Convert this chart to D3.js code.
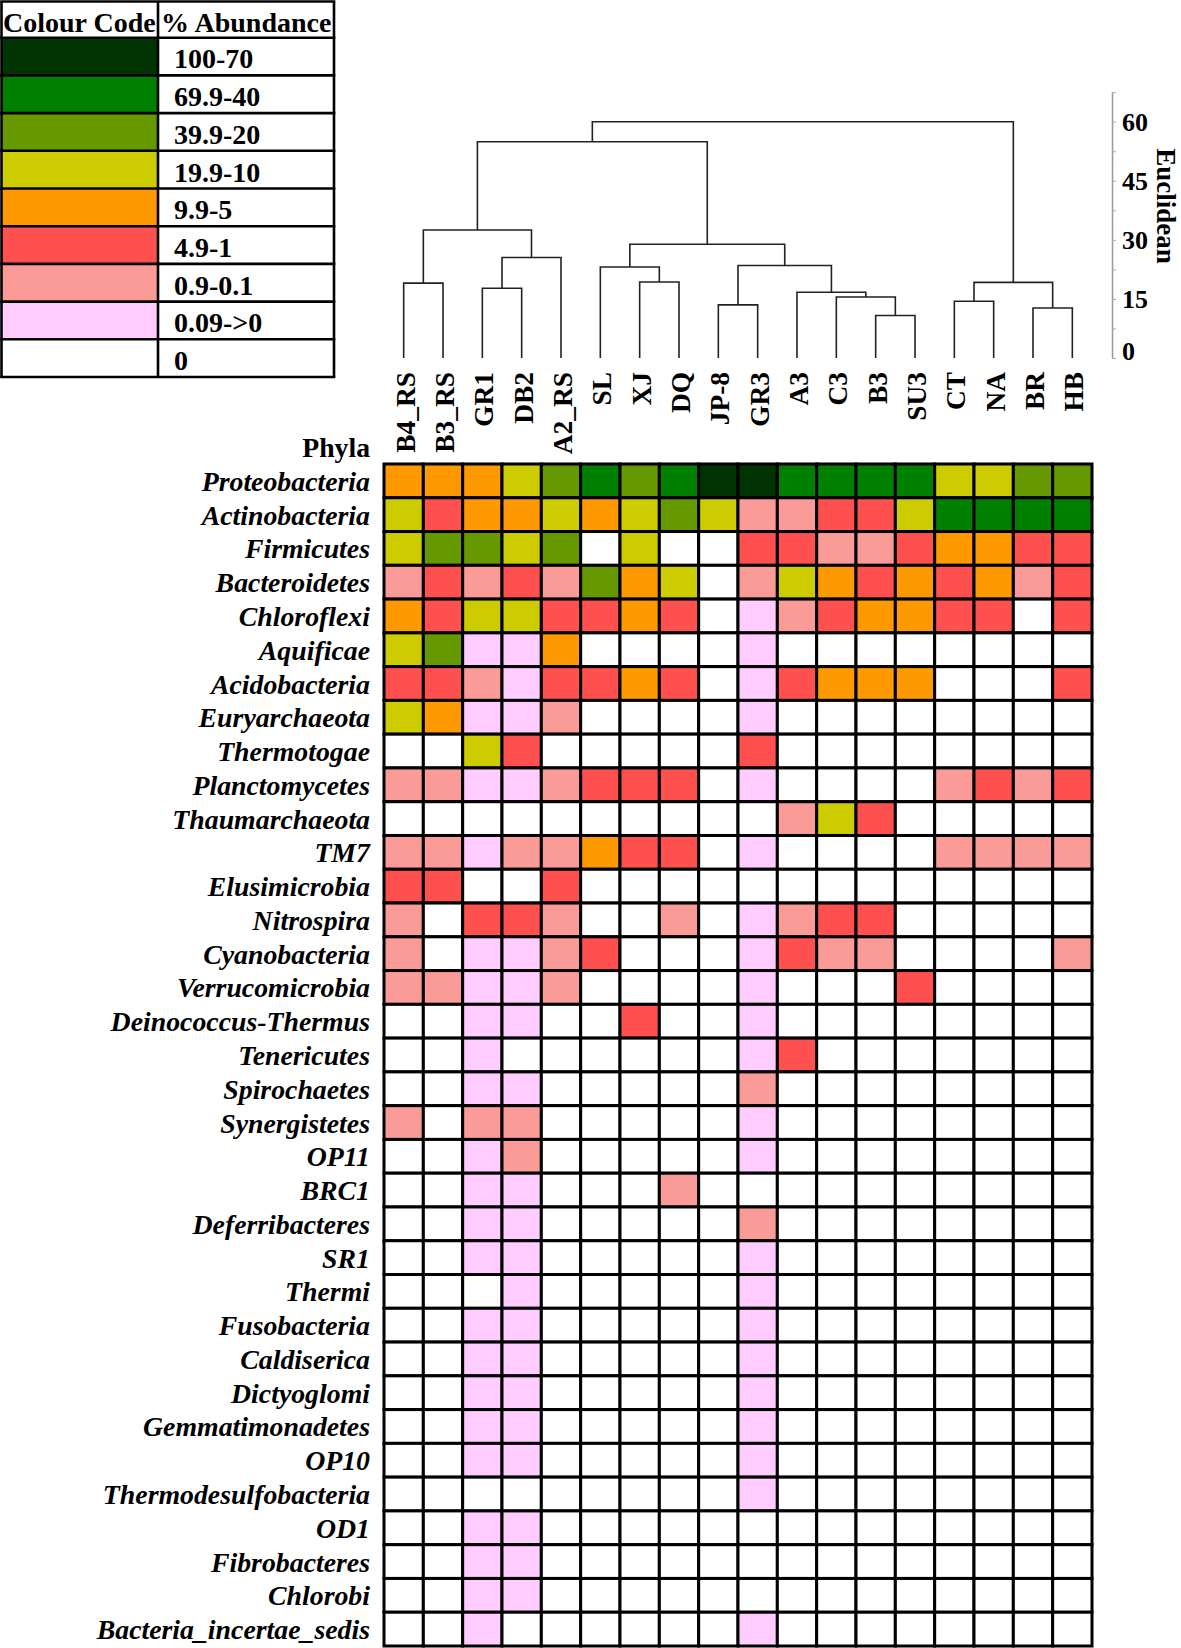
<!DOCTYPE html>
<html><head><meta charset="utf-8">
<script src="https://cdn.jsdelivr.net/npm/d3@7"></script>
<style>
body{margin:0;background:#fff}
svg{display:block}
text{font-family:"Liberation Serif","Times New Roman",serif;font-weight:bold;fill:#000}
</style>
</head><body>
<svg id="chart" width="1181" height="1648"></svg>
<script>
// ---------- DATA ----------
const samples = ["B4_RS","B3_RS","GR1","DB2","A2_RS","SL","XJ","DQ","JP-8","GR3","A3","C3","B3","SU3","CT","NA","BR","HB"];
const phyla = ["Proteobacteria","Actinobacteria","Firmicutes","Bacteroidetes","Chloroflexi","Aquificae","Acidobacteria","Euryarchaeota","Thermotogae","Planctomycetes","Thaumarchaeota","TM7","Elusimicrobia","Nitrospira","Cyanobacteria","Verrucomicrobia","Deinococcus-Thermus","Tenericutes","Spirochaetes","Synergistetes","OP11","BRC1","Deferribacteres","SR1","Thermi","Fusobacteria","Caldiserica","Dictyoglomi","Gemmatimonadetes","OP10","Thermodesulfobacteria","OD1","Fibrobacteres","Chlorobi","Bacteria_incertae_sedis"];
// abundance class index: 0 = "0", 1 = "0.09->0", 2 = "0.9-0.1", 3 = "4.9-1", 4 = "9.9-5", 5 = "19.9-10", 6 = "39.9-20", 7 = "69.9-40", 8 = "100-70"
const abundanceClasses = ["0","0.09->0","0.9-0.1","4.9-1","9.9-5","19.9-10","39.9-20","69.9-40","100-70"];
const classColours = ["#ffffff","#ffccff","#fb9b98","#ff5050","#ff9900","#cccc00","#669900","#008000","#023302"];
const abundanceClass = [
  [4,4,4,5,6,7,6,7,8,8,7,7,7,7,5,5,6,6],
  [5,3,4,4,5,4,5,6,5,2,2,3,3,5,7,7,7,7],
  [5,6,6,5,6,0,5,0,0,3,3,2,2,3,4,4,3,3],
  [2,3,2,3,2,6,4,5,0,2,5,4,3,4,3,4,2,3],
  [4,3,5,5,3,3,4,3,0,1,2,3,4,4,3,3,0,3],
  [5,6,1,1,4,0,0,0,0,1,0,0,0,0,0,0,0,0],
  [3,3,2,1,3,3,4,3,0,1,3,4,4,4,0,0,0,3],
  [5,4,1,1,2,0,0,0,0,1,0,0,0,0,0,0,0,0],
  [0,0,5,3,0,0,0,0,0,3,0,0,0,0,0,0,0,0],
  [2,2,1,1,2,3,3,3,0,1,0,0,0,0,2,3,2,3],
  [0,0,0,0,0,0,0,0,0,0,2,5,3,0,0,0,0,0],
  [2,2,1,2,2,4,3,3,0,1,0,0,0,0,2,2,2,2],
  [3,3,0,0,3,0,0,0,0,0,0,0,0,0,0,0,0,0],
  [2,0,3,3,2,0,0,2,0,1,2,3,3,0,0,0,0,0],
  [2,0,1,1,2,3,0,0,0,1,3,2,2,0,0,0,0,2],
  [2,2,1,1,2,0,0,0,0,1,0,0,0,3,0,0,0,0],
  [0,0,1,1,0,0,3,0,0,1,0,0,0,0,0,0,0,0],
  [0,0,1,0,0,0,0,0,0,1,3,0,0,0,0,0,0,0],
  [0,0,1,1,0,0,0,0,0,2,0,0,0,0,0,0,0,0],
  [2,0,2,2,0,0,0,0,0,1,0,0,0,0,0,0,0,0],
  [0,0,1,2,0,0,0,0,0,1,0,0,0,0,0,0,0,0],
  [0,0,1,1,0,0,0,2,0,0,0,0,0,0,0,0,0,0],
  [0,0,1,1,0,0,0,0,0,2,0,0,0,0,0,0,0,0],
  [0,0,1,1,0,0,0,0,0,1,0,0,0,0,0,0,0,0],
  [0,0,0,1,0,0,0,0,0,1,0,0,0,0,0,0,0,0],
  [0,0,1,1,0,0,0,0,0,1,0,0,0,0,0,0,0,0],
  [0,0,1,1,0,0,0,0,0,1,0,0,0,0,0,0,0,0],
  [0,0,1,1,0,0,0,0,0,1,0,0,0,0,0,0,0,0],
  [0,0,1,1,0,0,0,0,0,1,0,0,0,0,0,0,0,0],
  [0,0,1,1,0,0,0,0,0,1,0,0,0,0,0,0,0,0],
  [0,0,0,0,0,0,0,0,0,1,0,0,0,0,0,0,0,0],
  [0,0,1,1,0,0,0,0,0,0,0,0,0,0,0,0,0,0],
  [0,0,1,1,0,0,0,0,0,0,0,0,0,0,0,0,0,0],
  [0,0,1,1,0,0,0,0,0,0,0,0,0,0,0,0,0,0],
  [0,0,1,0,0,0,0,0,0,1,0,0,0,0,0,0,0,0]
];
// Dendrogram (Euclidean distance at each merge)
const dendrogram = {h:60.0, c:[
  {h:54.9, c:[
    {h:32.5, c:[
      {h:19.0, c:["B4_RS","B3_RS"]},
      {h:25.5, c:[{h:17.7, c:["GR1","DB2"]}, "A2_RS"]}
    ]},
    {h:28.9, c:[
      {h:23.1, c:["SL", {h:19.3, c:["XJ","DQ"]}]},
      {h:23.5, c:[
        {h:13.5, c:["JP-8","GR3"]},
        {h:16.7, c:["A3", {h:15.5, c:["C3", {h:10.8, c:["B3","SU3"]}]}]}
      ]}
    ]}
  ]},
  {h:19.2, c:[{h:14.4, c:["CT","NA"]}, {h:12.7, c:["BR","HB"]}]}
]};
const euclideanTicks = [0,7.5,15,22.5,30,37.5,45,52.5,60,67.5];
const euclideanLabels = [0,15,30,45,60];

// ---------- DRAW ----------
const svg = d3.select("#chart");
const colour = d3.scaleOrdinal().domain(d3.range(abundanceClasses.length)).range(classColours);

// Heatmap
const x = d3.scaleBand().domain(samples).range([384, 1092]);
const y = d3.scaleBand().domain(phyla).range([464, 1646]);

const cells = [];
phyla.forEach((p, i) => samples.forEach((s, j) => cells.push({p, s, v: abundanceClass[i][j]})));
svg.append("g").selectAll("rect").data(cells).join("rect")
  .attr("x", d => x(d.s)).attr("y", d => y(d.p))
  .attr("width", x.bandwidth()).attr("height", y.bandwidth())
  .attr("fill", d => colour(d.v))
  .attr("stroke", "#000").attr("stroke-width", 3);

// Row labels
svg.append("g").selectAll("text").data(phyla).join("text")
  .attr("x", 370).attr("y", d => y(d) + y.bandwidth()/2)
  .attr("dy", "0.36em").attr("text-anchor", "end")
  .style("font-style", "italic").style("font-size", "27.8px")
  .text(d => d);

svg.append("text").attr("x", 370).attr("y", 457).attr("text-anchor", "end")
  .style("font-size", "27.7px").text("Phyla");

// Column labels
svg.append("g").selectAll("text").data(samples).join("text")
  .attr("transform", d => `translate(${x(d) + x.bandwidth()/2 + 1},372) rotate(-90)`)
  .attr("dy", "0.36em").attr("text-anchor", "end")
  .style("font-size", "27.4px")
  .text(d => d);

// Dendrogram
const yD = d3.scaleLinear().domain([0, 67.5]).range([358, 358 - 67.5 * (358 - 121.7) / 60]);
const root = d3.hierarchy(dendrogram, d => d.c ? d.c.map(k => typeof k === "string" ? {name: k, h: 0} : k) : null);
root.eachAfter(n => {
  if (!n.children) n.px = x(n.data.name) + x.bandwidth()/2;
  else n.px = d3.mean(n.children, c => c.px);
});
const links = root.descendants().filter(n => n.children);
svg.append("g").selectAll("path").data(links).join("path")
  .attr("d", n => {
    const [a, b] = n.children;
    return `M${a.px},${yD(a.data.h)}V${yD(n.data.h)}H${b.px}V${yD(b.data.h)}`;
  })
  .attr("fill", "none").attr("stroke", "#222").attr("stroke-width", 1.6);

// Euclidean axis
const axisG = svg.append("g").attr("transform", "translate(1112,0)")
  .call(d3.axisRight(yD).tickValues(euclideanTicks).tickSize(4).tickSizeOuter(0).tickFormat(""));
axisG.select(".domain").attr("stroke", "#999").attr("stroke-width", 1.5);
axisG.selectAll(".tick line").attr("stroke", "#aaa");
svg.append("g").selectAll("text").data(euclideanLabels).join("text")
  .attr("x", 1122).attr("y", d => yD(d) - (d === 0 ? 7 : 0))
  .attr("dy", "0.35em").style("font-size", "26px")
  .text(d => d);
svg.append("text").attr("transform", "translate(1157,206) rotate(90)")
  .attr("text-anchor", "middle").style("font-size", "27px").text("Euclidean");

// Legend table
const legend = svg.append("g");
const lgTop = 1.5, lgHead = 36.2, lgRow = 37.7, lgLeft = 1.5, lgMid = 158, lgRight = 334;
const legendRows = d3.range(abundanceClasses.length).reverse();
const ly = d3.scaleBand().domain(legendRows).range([lgTop + lgHead, lgTop + lgHead + lgRow * legendRows.length]);
legend.selectAll("rect.sw").data(legendRows).join("rect").attr("class", "sw")
  .attr("x", lgLeft).attr("y", d => ly(d)).attr("width", lgMid - lgLeft).attr("height", ly.bandwidth())
  .attr("fill", d => colour(d));
legend.selectAll("text.lv").data(legendRows).join("text").attr("class", "lv")
  .attr("x", 174).attr("y", d => ly(d) + ly.bandwidth() - 7)
  .style("font-size", "28px").text(d => abundanceClasses[d]);
legend.append("text").attr("x", 3).attr("y", 31.5).style("font-size", "28px").text("Colour Code");
legend.append("text").attr("x", 161).attr("y", 31.5).style("font-size", "28px").text("% Abundance");
const hLines = [lgTop].concat(legendRows.map(d => ly(d)), [ly.range()[1]]);
legend.selectAll("line.h").data(hLines).join("line").attr("class", "h")
  .attr("x1", lgLeft - 1.3).attr("x2", lgRight + 1.3).attr("y1", d => d).attr("y2", d => d)
  .attr("stroke", "#000").attr("stroke-width", 2.6);
legend.selectAll("line.v").data([lgLeft, lgMid, lgRight]).join("line").attr("class", "v")
  .attr("x1", d => d).attr("x2", d => d).attr("y1", lgTop).attr("y2", ly.range()[1])
  .attr("stroke", "#000").attr("stroke-width", 2.6);
</script>
</body></html>
